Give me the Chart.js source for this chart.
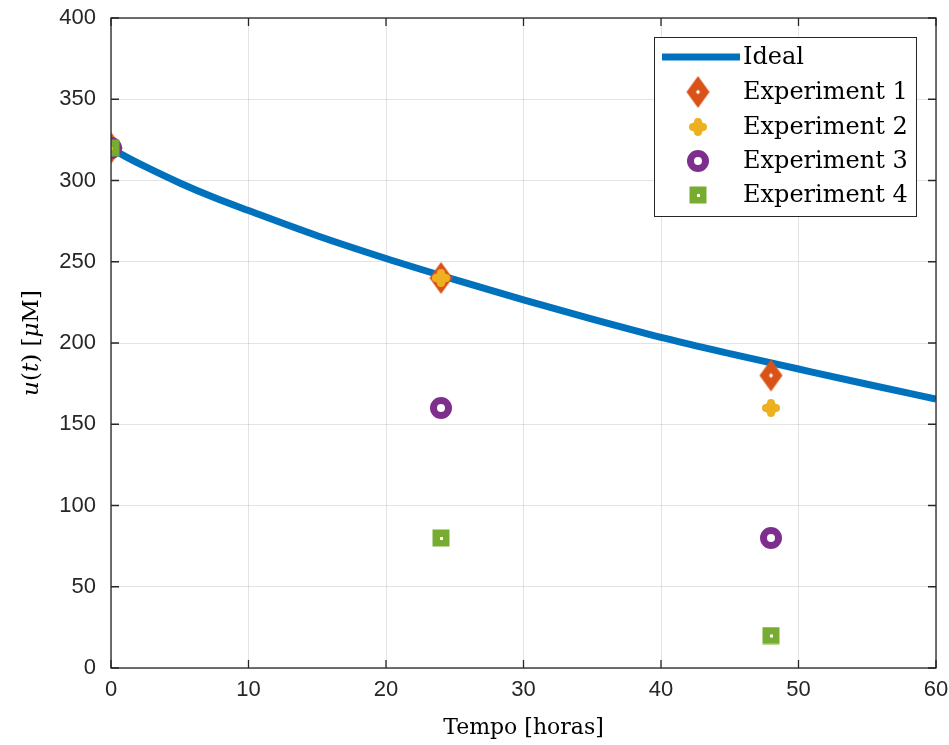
<!DOCTYPE html>
<html>
<head>
<meta charset="utf-8">
<script src="https://cdn.jsdelivr.net/npm/chart.js@4"></script>
<style>
html,body{margin:0;padding:0;background:#fff;}
canvas{display:block;}
</style>
</head>
<body>
<canvas id="c" width="949" height="745"></canvas>
<script>
// ---- data ----
const idealHours  = [0, 1, 2.5, 5, 7.5, 10, 15, 20, 25, 30, 35, 40, 45, 50, 55, 60];
const idealValues = [320, 315, 308.5, 298.5, 289.5, 281.5, 266, 252, 239, 226.5, 214.7, 203.5, 193.5, 184, 174.6, 165.5];
const sampleHours = [0, 24, 48];
const experiment1 = [320, 240, 180];
const experiment2 = [320, 240, 160];
const experiment3 = [320, 160, 80];
const experiment4 = [320, 80, 20];
const seriesNames = ['Ideal', 'Experiment 1', 'Experiment 2', 'Experiment 3', 'Experiment 4'];
const xTicks = [0, 10, 20, 30, 40, 50, 60];
const yTicks = [0, 50, 100, 150, 200, 250, 300, 350, 400];
const xTitle = 'Tempo [horas]';

// ---- styles ----
const C_BLUE = '#0072BD', C_ORANGE = '#D95319', C_YELLOW = '#EDB120', C_PURPLE = '#7E2F8E', C_GREEN = '#77AC30';
const AXIS = '#262626';

function mk(w, h, draw) {
  const cv = document.createElement('canvas');
  cv.width = w; cv.height = h;
  draw(cv.getContext('2d'), w, h);
  return cv;
}
const mDiamond = mk(25, 34, (g, w, h) => {
  g.fillStyle = C_ORANGE;
  g.beginPath(); g.moveTo(w/2, 1); g.lineTo(w-1, h/2); g.lineTo(w/2, h-1); g.lineTo(1, h/2); g.closePath(); g.fill();
  g.fillStyle = '#fff';
  g.beginPath(); g.moveTo(w/2, h/2-2.5); g.lineTo(w/2+2, h/2); g.lineTo(w/2, h/2+2.5); g.lineTo(w/2-2, h/2); g.closePath(); g.fill();
});
const mPlus = mk(20, 20, (g, w, h) => {
  g.strokeStyle = C_YELLOW; g.lineWidth = 8; g.lineCap = 'round';
  g.beginPath(); g.moveTo(w/2, 5); g.lineTo(w/2, h-5); g.moveTo(5, h/2); g.lineTo(w-5, h/2); g.stroke();
  g.fillStyle = C_YELLOW;
  g.beginPath(); g.arc(w/2, h/2, 6.5, 0, Math.PI*2); g.fill();
});
const mCircle = mk(24, 24, (g, w, h) => {
  g.strokeStyle = C_PURPLE; g.lineWidth = 7;
  g.beginPath(); g.arc(w/2, h/2, 7.5, 0, Math.PI*2); g.stroke();
});
const mSquare = mk(18, 18, (g, w, h) => {
  g.fillStyle = C_GREEN; g.fillRect(0.5, 0.5, 17, 17);
  g.clearRect(7.5, 7.5, 3, 3);
});
const markers = [null, mDiamond, mPlus, mCircle, mSquare];

function pts(xs, ys) { return xs.map((x, i) => ({x: x, y: ys[i]})); }

const datasets = [
  {label: seriesNames[0], data: pts(idealHours, idealValues), borderColor: C_BLUE, borderWidth: 7, pointRadius: 0,
   showLine: true, cubicInterpolationMode: 'monotone', fill: false, order: 5},
  {label: seriesNames[1], data: pts(sampleHours, experiment1), pointStyle: mDiamond, pointRadius: 12, showLine: false, order: 4},
  {label: seriesNames[2], data: pts(sampleHours, experiment2), pointStyle: mPlus, pointRadius: 10, showLine: false, order: 3},
  {label: seriesNames[3], data: pts(sampleHours, experiment3), pointStyle: mCircle, pointRadius: 11, showLine: false, order: 2},
  {label: seriesNames[4], data: pts(sampleHours, experiment4), pointStyle: mSquare, pointRadius: 9, showLine: false, order: 1}
];

const SERIF = '"DejaVu Serif", "Liberation Serif", serif';

const framePlugin = {
  id: 'frame',
  afterDatasetsDraw(chart) {
    const {ctx, chartArea: a, scales} = chart;
    ctx.save();
    ctx.strokeStyle = AXIS; ctx.lineWidth = 1.3;
    ctx.strokeRect(a.left, a.top, a.right - a.left, a.bottom - a.top);
    const tl = 8;
    ctx.beginPath();
    xTicks.forEach(v => {
      const x = scales.x.getPixelForValue(v);
      ctx.moveTo(x, a.bottom); ctx.lineTo(x, a.bottom - tl);
      ctx.moveTo(x, a.top); ctx.lineTo(x, a.top + tl);
    });
    yTicks.forEach(v => {
      const y = scales.y.getPixelForValue(v);
      ctx.moveTo(a.left, y); ctx.lineTo(a.left + tl, y);
      ctx.moveTo(a.right, y); ctx.lineTo(a.right - tl, y);
    });
    ctx.stroke();

    // legend
    const bx = 654, by = 37, bw = 262, bh = 179;
    ctx.fillStyle = '#fff'; ctx.fillRect(bx, by, bw, bh);
    ctx.lineWidth = 1; ctx.strokeStyle = AXIS; ctx.strokeRect(bx + 0.5, by + 0.5, bw, bh);
    const rows = [57, 92, 127, 161, 195];
    ctx.font = '24px ' + SERIF; ctx.fillStyle = '#000'; ctx.textBaseline = 'middle'; ctx.textAlign = 'left';
    rows.forEach((ry, i) => {
      if (i === 0) {
        ctx.strokeStyle = C_BLUE; ctx.lineWidth = 7;
        ctx.beginPath(); ctx.moveTo(662, ry); ctx.lineTo(740, ry); ctx.stroke();
      } else {
        const m = markers[i];
        ctx.drawImage(m, 698 - m.width/2, ry - m.height/2);
      }
      ctx.fillStyle = '#000';
      ctx.fillText(seriesNames[i], 743, ry + 1);
    });

    // y title with italics
    ctx.save();
    ctx.translate(32, (a.top + a.bottom) / 2);
    ctx.rotate(-Math.PI / 2);
    const parts = [['u', true], ['(', false], ['t', true], [') [', false], ['\u03BC', true], ['M]', false]];
    let total = 0;
    parts.forEach(p => { ctx.font = (p[1] ? 'italic ' : '') + '23px ' + SERIF; total += ctx.measureText(p[0]).width; });
    let cx = -total / 2;
    ctx.textBaseline = 'middle'; ctx.fillStyle = '#000';
    parts.forEach(p => { ctx.font = (p[1] ? 'italic ' : '') + '23px ' + SERIF; ctx.fillText(p[0], cx, 0); cx += ctx.measureText(p[0]).width; });
    ctx.restore();
    ctx.restore();
  }
};

new Chart(document.getElementById('c'), {
  type: 'scatter',
  data: {datasets: datasets},
  options: {
    responsive: false,
    animation: false,
    devicePixelRatio: 1,
    layout: {padding: {left: 0, right: 13, top: 18, bottom: 0}},
    plugins: {legend: {display: false}, tooltip: {enabled: false}},
    scales: {
      x: {
        type: 'linear', min: 0, max: 60,
        afterFit: s => { s.height = 77; },
        afterBuildTicks: s => { s.ticks = xTicks.map(v => ({value: v})); },
        grid: {color: 'rgba(38,38,38,0.13)', lineWidth: 1, drawTicks: true, tickLength: 9, tickColor: 'rgba(0,0,0,0)'},
        border: {display: false},
        ticks: {color: AXIS, font: {family: '"Liberation Sans", Arial, sans-serif', size: 22}, padding: 0, maxRotation: 0},
        title: {display: true, text: xTitle, color: '#000', font: {family: SERIF, size: 22}, padding: {top: 0, bottom: 4}}
      },
      y: {
        type: 'linear', min: 0, max: 400,
        afterFit: s => { s.width = 111; },
        afterBuildTicks: s => { s.ticks = yTicks.map(v => ({value: v})); },
        grid: {color: 'rgba(38,38,38,0.13)', lineWidth: 1, drawTicks: true, tickLength: 15, tickColor: 'rgba(0,0,0,0)'},
        border: {display: false},
        ticks: {color: AXIS, font: {family: '"Liberation Sans", Arial, sans-serif', size: 22}, padding: 0}
      }
    }
  },
  plugins: [framePlugin]
});
</script>
</body>
</html>
